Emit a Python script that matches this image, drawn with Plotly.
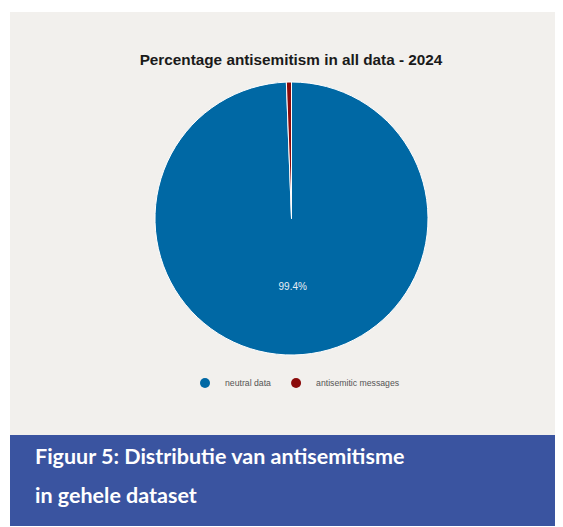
import plotly.graph_objects as go

labels = ["neutral data", "antisemitic messages"]
values = [99.4, 0.6]
slice_text = ["99.4%", ""]
colors = ["#0068a4", "#8b0b0b"]

title_text = "Percentage antisemitism in all data - 2024"
caption_lines = ["Figuur 5: Distributie van antisemitisme", "in gehele dataset"]

# page body has an 8px margin: figure starts at (8, 8) in the window
OFF = 8
W, H = 563 - OFF, 527 - OFF


def px(x):
    return (x - OFF) / W


def py(y):
    return 1 - (y - OFF) / H


fig = go.Figure()
fig.add_trace(go.Pie(
    labels=labels, values=values, text=slice_text,
    textinfo="text", textposition="inside",
    insidetextfont=dict(family="Liberation Sans", size=10, color="#e8eef4"),
    marker=dict(colors=colors, line=dict(color="#ffffff", width=1)),
    sort=False, direction="clockwise", rotation=0,
    showlegend=False, hoverinfo="label+percent",
    domain=dict(x=[px(155), px(428)], y=[py(355), py(82)]),
))
for lab, col in zip(labels, colors):
    fig.add_trace(go.Scatter(
        x=[None], y=[None], mode="markers", name=lab,
        marker=dict(symbol="circle", size=10, color=col),
    ))

fig.update_layout(
    width=W, height=H,
    margin=dict(l=0, r=0, t=0, b=0),
    paper_bgcolor="#ffffff", plot_bgcolor="rgba(0,0,0,0)",
    xaxis=dict(visible=False), yaxis=dict(visible=False),
    title=dict(text="<b>" + title_text + "</b>", x=px(291), xanchor="center",
               y=py(60), yanchor="middle",
               font=dict(family="Liberation Sans", size=15.3, color="#1a1a1a")),
    legend=dict(orientation="h", x=px(295), xanchor="center", y=py(383), yanchor="middle",
                font=dict(family="Liberation Sans", size=8.7, color="#555555"),
                bgcolor="rgba(0,0,0,0)", itemwidth=30),
    shapes=[
        dict(type="rect", xref="paper", yref="paper", x0=px(10), x1=1, y0=py(435), y1=py(12),
             fillcolor="#f2f0ed", line=dict(width=0), layer="below"),
        dict(type="rect", xref="paper", yref="paper", x0=px(10), x1=1, y0=py(526), y1=py(435),
             fillcolor="#3a54a0", line=dict(width=0), layer="below"),
    ],
    annotations=[
        dict(text=caption_lines[0], xref="paper", yref="paper", x=px(33), y=py(456),
             xanchor="left", yanchor="middle", showarrow=False,
             font=dict(family="Lato", size=21.5, color="#ffffff", weight=700)),
        dict(text=caption_lines[1], xref="paper", yref="paper", x=px(33), y=py(495),
             xanchor="left", yanchor="middle", showarrow=False,
             font=dict(family="Lato", size=21.5, color="#ffffff", weight=700)),
    ],
)

fig.write_html("out.html")
